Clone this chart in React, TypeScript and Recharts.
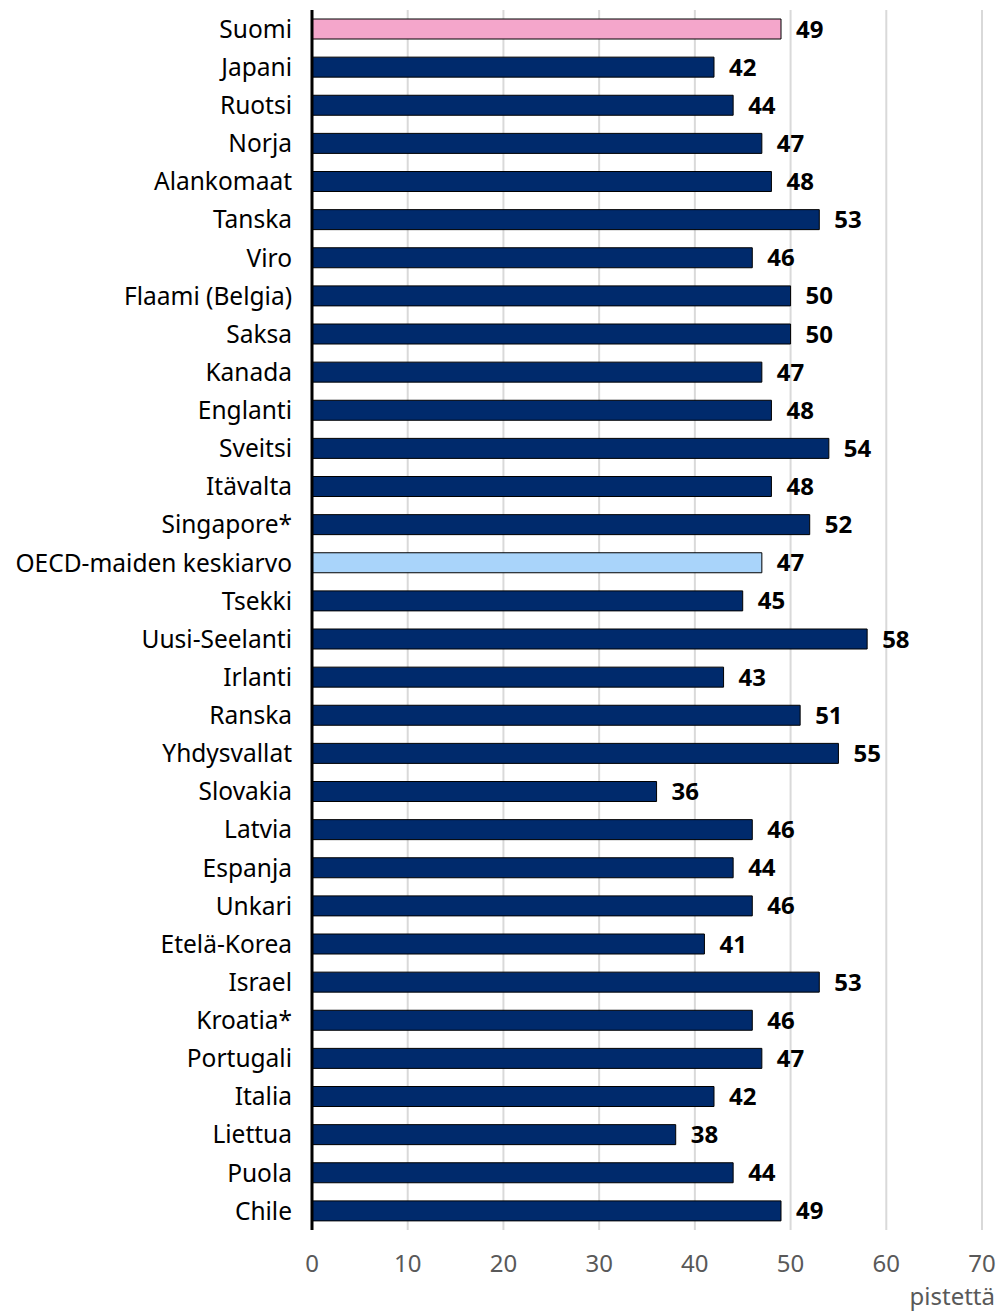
import React from 'react';
import { BarChart, Bar, XAxis, YAxis, CartesianGrid, Cell, LabelList } from 'recharts';

const countries = ['Suomi','Japani','Ruotsi','Norja','Alankomaat','Tanska','Viro','Flaami (Belgia)','Saksa','Kanada','Englanti','Sveitsi','Itävalta','Singapore*','OECD-maiden keskiarvo','Tsekki','Uusi-Seelanti','Irlanti','Ranska','Yhdysvallat','Slovakia','Latvia','Espanja','Unkari','Etelä-Korea','Israel','Kroatia*','Portugali','Italia','Liettua','Puola','Chile'];
const values = [49,42,44,47,48,53,46,50,50,47,48,54,48,52,47,45,58,43,51,55,36,46,44,46,41,53,46,47,42,38,44,49];
const xTicks = [0,10,20,30,40,50,60,70];

const data = countries.map((c, i) => ({ name: c, value: values[i] }));

const colorFor = (name: string) => name === 'Suomi' ? '#F4A6CB' : name === 'OECD-maiden keskiarvo' ? '#A9D4FA' : '#002A6C';

const FONT = '"Noto Sans", "Open Sans", sans-serif';

export default function App() {
  return (
    <div style={{ position: 'absolute', left: 0, top: 0, width: 1000, height: 1315, background: '#fff', fontFamily: FONT }}>
      <BarChart
        width={1000}
        height={1315}
        data={data}
        layout="vertical"
        margin={{ top: 10, right: 18, bottom: 45, left: 0 }}
      >
        <CartesianGrid horizontal={false} vertical={true} stroke="#D9D9D9" strokeWidth={2} />
        <XAxis
          type="number"
          domain={[0, 70]}
          ticks={xTicks}
          axisLine={false}
          tickLine={false}
          height={40}
          tickSize={0}
          tickMargin={25}
          tick={{ fill: '#595959', fontSize: 24, fontFamily: FONT }}
          interval={0}
        />
        <YAxis
          type="category"
          dataKey="name"
          width={312}
          axisLine={{ stroke: '#000', strokeWidth: 3 }}
          tickLine={false}
          tickSize={0}
          tickMargin={20}
          interval={0}
          tick={{ fill: '#000', fontSize: 24.5, fontFamily: FONT }}
        />
        <Bar dataKey="value" isAnimationActive={false} stroke="#000" strokeWidth={1} barSize={20}>
          {data.map((d) => (
            <Cell key={d.name} fill={colorFor(d.name)} />
          ))}
          <LabelList dataKey="value" position="right" offset={15} style={{ fill: '#000', fontWeight: 700, fontSize: 24, fontFamily: FONT }} />
        </Bar>
      </BarChart>
      <div style={{ position: 'absolute', right: 5, top: 1284, fontSize: 24, lineHeight: '24px', color: '#595959', fontFamily: FONT }}>pistettä</div>
    </div>
  );
}
